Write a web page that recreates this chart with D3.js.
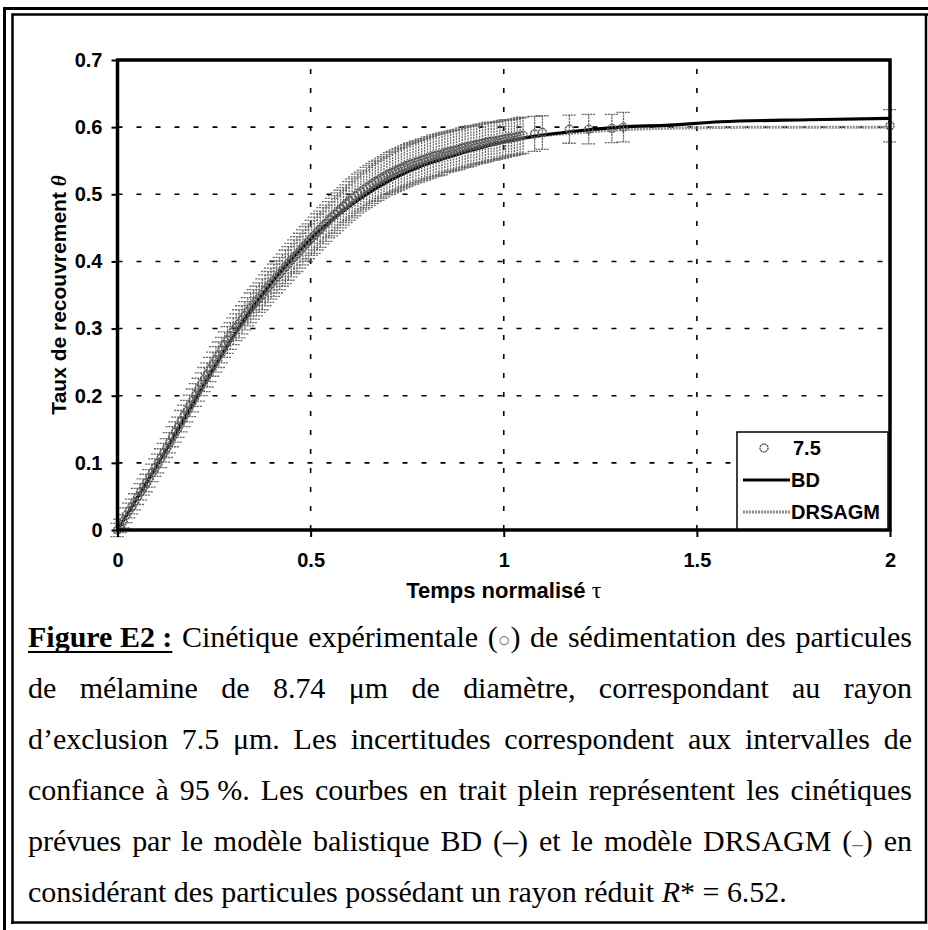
<!DOCTYPE html>
<html><head><meta charset="utf-8">
<script src="https://cdn.jsdelivr.net/npm/d3@7"></script>
<style>body{margin:0;background:#fff}svg{display:block}</style>
</head><body><svg id="c" width="928" height="930"></svg>
<script>
// ---------- DATA ----------
const tauExp = [0.0000,0.0075,0.0150,0.0225,0.0300,0.0375,0.0450,0.0525,0.0600,0.0675,0.0750,0.0825,0.0900,0.0975,0.1050,0.1125,0.1200,0.1275,0.1350,0.1425,0.1500,0.1575,0.1650,0.1725,0.1800,0.1875,0.1950,0.2025,0.2100,0.2175,0.2250,0.2325,0.2400,0.2475,0.2550,0.2625,0.2700,0.2775,0.2850,0.2925,0.3000,0.3075,0.3150,0.3225,0.3300,0.3375,0.3450,0.3525,0.3600,0.3675,0.3750,0.3825,0.3900,0.3975,0.4050,0.4125,0.4200,0.4275,0.4350,0.4425,0.4500,0.4575,0.4650,0.4725,0.4800,0.4875,0.4950,0.5025,0.5100,0.5175,0.5250,0.5325,0.5400,0.5475,0.5550,0.5625,0.5700,0.5775,0.5850,0.5925,0.6000,0.6075,0.6150,0.6225,0.6300,0.6375,0.6450,0.6525,0.6600,0.6675,0.6750,0.6825,0.6900,0.6975,0.7050,0.7125,0.7200,0.7275,0.7350,0.7425,0.7500,0.7575,0.7650,0.7725,0.7800,0.7875,0.7950,0.8025,0.8100,0.8175,0.8250,0.8325,0.8400,0.8475,0.8550,0.8625,0.8700,0.8775,0.8850,0.8925,0.9000,0.9075,0.9150,0.9225,0.9300,0.9375,0.9450,0.9525,0.9600,0.9675,0.9750,0.9825,0.9900,0.9975,1.0050,1.0125,1.0200,1.0275,1.0350,1.0425,1.0500,1.080,1.100,1.170,1.220,1.280,1.310,2.000];
const thetaExp = [0.000,0.006,0.013,0.022,0.029,0.035,0.042,0.050,0.057,0.064,0.070,0.077,0.085,0.093,0.099,0.107,0.115,0.122,0.130,0.139,0.146,0.153,0.162,0.170,0.177,0.185,0.193,0.201,0.209,0.217,0.224,0.231,0.239,0.247,0.254,0.261,0.268,0.276,0.283,0.289,0.296,0.302,0.307,0.313,0.319,0.325,0.331,0.336,0.341,0.346,0.351,0.357,0.362,0.367,0.372,0.377,0.382,0.387,0.392,0.397,0.402,0.407,0.411,0.416,0.421,0.426,0.430,0.435,0.439,0.444,0.448,0.453,0.457,0.462,0.466,0.470,0.474,0.478,0.482,0.486,0.490,0.494,0.497,0.501,0.504,0.507,0.510,0.513,0.516,0.519,0.521,0.524,0.526,0.529,0.531,0.533,0.535,0.537,0.539,0.541,0.543,0.545,0.546,0.548,0.549,0.551,0.552,0.554,0.555,0.557,0.558,0.559,0.560,0.562,0.563,0.564,0.565,0.566,0.567,0.569,0.570,0.571,0.572,0.573,0.574,0.575,0.576,0.577,0.578,0.579,0.579,0.580,0.581,0.582,0.583,0.584,0.584,0.585,0.586,0.587,0.588,0.590,0.592,0.597,0.597,0.598,0.600,0.602];
const errExp = [0.010,0.010,0.010,0.011,0.011,0.011,0.012,0.012,0.012,0.012,0.013,0.013,0.013,0.013,0.014,0.014,0.014,0.014,0.015,0.015,0.015,0.015,0.016,0.016,0.016,0.016,0.017,0.017,0.017,0.017,0.018,0.018,0.018,0.018,0.019,0.019,0.019,0.019,0.020,0.020,0.020,0.020,0.021,0.021,0.021,0.021,0.022,0.022,0.022,0.022,0.023,0.023,0.023,0.023,0.024,0.024,0.024,0.024,0.025,0.025,0.025,0.025,0.026,0.026,0.026,0.026,0.026,0.026,0.027,0.027,0.027,0.027,0.027,0.027,0.028,0.028,0.028,0.028,0.028,0.028,0.029,0.029,0.029,0.029,0.029,0.029,0.030,0.030,0.030,0.030,0.030,0.030,0.030,0.030,0.031,0.031,0.031,0.031,0.031,0.031,0.031,0.031,0.031,0.031,0.031,0.031,0.031,0.031,0.031,0.031,0.031,0.031,0.031,0.030,0.030,0.030,0.030,0.030,0.030,0.030,0.030,0.030,0.030,0.029,0.029,0.029,0.029,0.029,0.029,0.028,0.028,0.028,0.028,0.028,0.028,0.027,0.027,0.027,0.027,0.027,0.027,0.026,0.025,0.021,0.022,0.021,0.022,0.024];

const tauBD   = [0,0.05,0.10,0.15,0.20,0.25,0.30,0.35,0.40,0.45,0.50,0.55,0.60,0.65,0.70,0.75,0.80,0.85,0.90,0.95,1.00,1.10,1.20,1.30,1.43,1.56,1.79,2.00];
const thetaBD = [0,0.047,0.094,0.143,0.192,0.241,0.288,0.331,0.369,0.403,0.433,0.459,0.482,0.502,0.519,0.533,0.545,0.554,0.563,0.571,0.578,0.588,0.595,0.600,0.603,0.608,0.611,0.613];

const tauDRS   = [0,0.10,0.20,0.30,0.40,0.50,0.60,0.70,0.80,0.90,1.00,1.10,1.20,1.30,1.40,1.50,1.75,2.00];
const thetaDRS = [0,0.095,0.196,0.293,0.371,0.434,0.486,0.524,0.550,0.567,0.579,0.587,0.592,0.596,0.598,0.599,0.600,0.600];

const xTicks = [0,0.5,1,1.5,2];
const xTickLabels = ["0","0.5","1","1.5","2"];
const yTicks = [0,0.1,0.2,0.3,0.4,0.5,0.6,0.7];
const yTickLabels = ["0","0.1","0.2","0.3","0.4","0.5","0.6","0.7"];
const legendLabels = ["7.5","BD","DRSAGM"];
const xTitle = "Temps normalisé ";
const xTitleSym = "τ";
const yTitle = "Taux de recouvrement ";
const yTitleSym = "θ";

// caption: each line is a list of words; each word a list of [text, style]
const captionLines = [
  [[["Figure E2 :","bu"]],[["Cinétique",""]],[["expérimentale",""]],[["(",""],["○","g"],[")",""]],[["de",""]],[["sédimentation",""]],[["des",""]],[["particules",""]]],
  "de mélamine de 8.74 μm de diamètre, correspondant au rayon",
  "d’exclusion 7.5 μm. Les incertitudes correspondent aux intervalles de",
  "confiance à 95\u00a0%. Les courbes en trait plein représentent les cinétiques",
  [[["prévues",""]],[["par",""]],[["le",""]],[["modèle",""]],[["balistique",""]],[["BD",""]],[["(–)",""]],[["et",""]],[["le",""]],[["modèle",""]],[["DRSAGM",""]],[["(",""],["–","g"],[")",""]],[["en",""]]],
];
const captionLast = [["considérant des particules possédant un rayon réduit ",""],["R","i"],["* = 6.52.",""]];

// ---------- DRAW ----------
const svg = d3.select("#c");
svg.append("rect").attr("width",928).attr("height",930).attr("fill","#fff");

// page frame (double line)
const fr = svg.append("g").attr("stroke","#000").attr("fill","none");
fr.append("path").attr("d","M4.5,930V8.5H928").attr("stroke-width",3);
fr.append("path").attr("d","M12.5,924V14.5H928").attr("stroke-width",2.5);
fr.append("path").attr("d","M11,922.5H926V14").attr("stroke-width",2.5);

const x = d3.scaleLinear().domain([0,2]).range([117.5,890]);
const y = d3.scaleLinear().domain([0,0.7]).range([530,60]);

// grid
const grid = svg.append("g").attr("stroke","#000").attr("stroke-width",1.6).attr("stroke-dasharray","5,14");
grid.selectAll(".gy").data(yTicks.filter(v=>v>0&&v<0.7)).join("line")
  .attr("x1",x(0)).attr("x2",x(2)).attr("y1",d=>y(d)).attr("y2",d=>y(d));
grid.selectAll(".gx").data(xTicks.filter(v=>v>0&&v<2)).join("line")
  .attr("y1",y(0)).attr("y2",y(0.7)).attr("x1",d=>x(d)).attr("x2",d=>x(d));

// model lines (under the experimental band, as in the reference)
const line = d3.line().x(d=>x(d[0])).y(d=>y(d[1])).curve(d3.curveMonotoneX);
svg.append("path").datum(tauDRS.map((t,i)=>[t,thetaDRS[i]])).attr("d",line)
  .attr("fill","none").attr("stroke","#8c8c8c").attr("stroke-width",3).attr("stroke-dasharray","2,1");
svg.append("path").datum(tauBD.map((t,i)=>[t,thetaBD[i]])).attr("d",line)
  .attr("fill","none").attr("stroke","#000").attr("stroke-width",3.2);

// experimental error bars + points
const exp = tauExp.map((t,i)=>({t, v:thetaExp[i], e:errExp[i]}));
const cap = 7;
const eg = svg.append("g");
eg.selectAll("path").data(exp).join("path")
  .attr("d",d=>{const cx=x(d.t), y1=y(d.v+d.e), y2=y(d.v-d.e);
    return `M${cx-cap},${y1}H${cx+cap}M${cx},${y1}V${y2}M${cx-cap},${y2}H${cx+cap}`;})
  .attr("fill","none").attr("stroke","#666").attr("stroke-width",1.3).attr("stroke-dasharray","2,0.8");
eg.selectAll("circle").data(exp).join("circle")
  .attr("cx",d=>x(d.t)).attr("cy",d=>y(d.v)).attr("r",4)
  .attr("fill","none").attr("stroke","#5a5a5a").attr("stroke-width",1.5).attr("stroke-dasharray","2,0.7");

// axes
const axFont = "'Liberation Sans', Arial, sans-serif";
const ax = svg.append("g").attr("transform",`translate(${x(0)},0)`)
  .call(d3.axisLeft(y).tickValues(yTicks).tickFormat((d,i)=>yTickLabels[i]).tickSize(6).tickPadding(9));
const bx = svg.append("g").attr("transform",`translate(0,${y(0)})`)
  .call(d3.axisBottom(x).tickValues(xTicks).tickFormat((d,i)=>xTickLabels[i]).tickSize(7).tickPadding(16));
[ax,bx].forEach(a=>{
  a.select(".domain").remove();
  a.selectAll(".tick line").attr("stroke","#000").attr("stroke-width",2);
  a.selectAll(".tick text").attr("fill","#000").style("font-family",axFont).style("font-weight","bold").style("font-size","20px");
});

// plot frame
svg.append("rect").attr("x",x(0)).attr("y",y(0.7)).attr("width",x(2)-x(0)).attr("height",y(0)-y(0.7))
  .attr("fill","none").attr("stroke","#000").attr("stroke-width",3.5);

// axis titles
const xt = svg.append("text").attr("x",(x(0)+x(2))/2).attr("y",598).attr("text-anchor","middle")
  .style("font-family",axFont).style("font-weight","bold").style("font-size","22px");
xt.append("tspan").text(xTitle);
xt.append("tspan").text(xTitleSym).style("font-family","'Liberation Serif', serif").style("font-weight","normal").style("font-size","24px");
const yt = svg.append("text").attr("transform",`translate(66,${(y(0)+y(0.7))/2}) rotate(-90)`).attr("text-anchor","middle")
  .style("font-family",axFont).style("font-weight","bold").style("font-size","21px");
yt.append("tspan").text(yTitle);
yt.append("tspan").text(yTitleSym).style("font-family","'Liberation Serif', serif").style("font-style","italic");

// legend
const lg = svg.append("g");
lg.append("rect").attr("x",737).attr("y",432).attr("width",151).attr("height",97).attr("fill","#fff").attr("stroke","#000").attr("stroke-width",1.5);
const ly = [448,480,512];
lg.append("circle").attr("cx",764).attr("cy",ly[0]).attr("r",4).attr("fill","none").attr("stroke","#5a5a5a").attr("stroke-width",1.5).attr("stroke-dasharray","2,0.7");
lg.append("line").attr("x1",743).attr("x2",790).attr("y1",ly[1]).attr("y2",ly[1]).attr("stroke","#000").attr("stroke-width",3.2);
lg.append("line").attr("x1",743).attr("x2",790).attr("y1",ly[2]).attr("y2",ly[2]).attr("stroke","#8c8c8c").attr("stroke-width",3).attr("stroke-dasharray","2,1");
lg.selectAll("text").data(legendLabels).join("text")
  .attr("x",(d,i)=>i===0?793:791).attr("y",(d,i)=>ly[i]).attr("dy","0.36em").text(d=>d)
  .style("font-family",axFont).style("font-weight","bold").style("font-size","20px");

// caption
const capFont = "'Liberation Serif', 'Times New Roman', serif";
const cg = svg.append("g").style("font-family",capFont).style("fill","#000");
const left = 28, right = 912, base0 = 647, lead = 51;
function styleSpan(sp, st){
  if (st.includes("b")) sp.style("font-weight","bold");
  if (st.includes("i")) sp.style("font-style","italic");
  if (st.includes("g")) sp.style("fill","#777").style("font-size","0.7em");
}
// determine font size from last line natural width
let fs = 26;
const probe = cg.append("text").style("font-size",fs+"px");
captionLast.forEach(([t,st])=>styleSpan(probe.append("tspan").text(t),st));
const w0 = probe.node().getComputedTextLength();
fs = fs * (787-left) / w0;
probe.remove();
cg.style("font-size",fs+"px");

captionLines.forEach((ln,li)=>{
  const words = typeof ln === "string" ? ln.split(" ").map(w=>[[w,""]]) : ln;
  const by = base0 + li*lead;
  const els = words.map(wd=>{
    const t = cg.append("text").attr("y",by);
    wd.forEach(([s,st])=>styleSpan(t.append("tspan").text(s),st));
    return t;
  });
  const widths = els.map(e=>e.node().getComputedTextLength());
  const gap = (right-left-d3.sum(widths))/(els.length-1);
  let cx = left;
  els.forEach((e,i)=>{ e.attr("x",cx); cx += widths[i]+gap; });
  if (li===0){
    cg.append("line").attr("x1",left).attr("x2",left+widths[0]).attr("y1",by+5).attr("y2",by+5).attr("stroke","#000").attr("stroke-width",1.8);
  }
});
const lt = cg.append("text").attr("x",left).attr("y",base0+5*lead);
captionLast.forEach(([t,st])=>styleSpan(lt.append("tspan").text(t),st));
</script></body></html>
